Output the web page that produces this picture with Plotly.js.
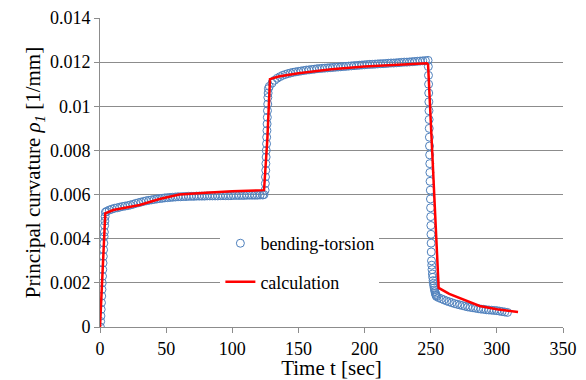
<!DOCTYPE html>
<html>
<head>
<meta charset="utf-8">
<script src="https://cdn.plot.ly/plotly-3.0.1.min.js"></script>
<style>
html,body{margin:0;padding:0;background:#fff;}
#chart{width:586px;height:380px;}
</style>
</head>
<body>
<div id="chart"></div>
<script>
// bending-torsion (measured) : time [sec]
var measT = [
  0.3,0.5,0.7,0.9,1.1,1.3,1.5,1.7,1.9,2.1,2.3,2.5,2.7,2.9,3.1,3.3,3.5,3.7,3.9,4.1,
  5,7,9,11,13,15,17,19,21,23,25,27,29,31,33,35,37,39,41,43,45,47,49,51,53,55,57,59,
  61,63,65,67,69,71,73,75,77,79,81,83,85,87,89,91,93,95,97,99,101,103,105,107,109,
  111,113,115,117,119,121,123,124,
  124.8,125.0,125.1,125.3,125.4,125.6,125.7,125.9,126.0,126.2,126.3,126.5,126.6,126.8,126.9,127.1,127.3,
  128,130,132,134,136,138,140,142,144,146,148,150,152,154,156,158,160,162,164,166,168,
  170,172,174,176,178,180,182,184,186,188,190,192,194,196,198,200,202,204,206,208,210,
  212,214,216,218,220,222,224,226,228,230,232,234,236,238,240,242,244,246,248,
  248.2,248.3,248.4,248.5,248.6,248.7,248.8,248.9,249.0,249.1,249.2,249.3,249.4,249.5,
  249.7,249.8,249.9,250.0,250.1,250.2,250.3,250.4,250.6,
  250.8,251.0,251.3,251.5,251.8,252.0,252.3,252.6,252.9,253.2,253.5,253.8,254.1,254.5,
  256,258,260,262,264,266,268,270,272,274,276,278,280,282,284,286,288,290,292,294,
  296,298,300,302,304,306,308
];
// bending-torsion : principal curvature [1/mm]
var measRho = [
  0,0.00025,0.0005,0.0008,0.0011,0.0014,0.0017,0.002,0.0023,0.0026,0.0029,0.0032,0.0035,0.0038,0.0041,0.0043,0.0046,0.0048,0.005,0.0052,
  0.00524,0.0053,0.00534,0.00538,0.0054,0.00543,0.00546,0.00548,0.0055,0.00553,0.00556,0.0056,0.00563,0.00566,0.00569,0.00572,0.00574,0.00576,0.00578,0.0058,0.00582,0.00583,0.00585,0.00586,0.00587,0.00588,0.00589,0.0059,
  0.0059,0.00591,0.00591,0.00592,0.00592,0.00592,0.00593,0.00593,0.00593,0.00593,0.00594,0.00594,0.00594,0.00594,0.00594,0.00595,0.00595,0.00595,0.00595,0.00595,0.00596,0.00596,0.00596,0.00596,0.00596,
  0.00597,0.00597,0.00597,0.00597,0.00597,0.00598,0.00598,0.006,
  0.0062,0.0065,0.0068,0.0071,0.0074,0.0077,0.008,0.0083,0.0086,0.0089,0.0092,0.0095,0.0098,0.0101,0.0104,0.0106,0.0108,
  0.0109,0.01105,0.01118,0.01127,0.01134,0.0114,0.01144,0.01148,0.01151,0.01154,0.01156,0.01158,0.0116,0.01162,0.01164,0.01165,0.01167,0.01168,0.0117,0.01171,0.01172,
  0.01173,0.01174,0.01175,0.01176,0.01177,0.01178,0.01179,0.0118,0.01181,0.01182,0.01183,0.01184,0.01185,0.01186,0.01187,0.01188,0.01189,0.0119,0.0119,0.01191,0.01192,
  0.01193,0.01193,0.01194,0.01195,0.01196,0.01196,0.01197,0.01198,0.01199,0.012,0.012,0.01201,0.01202,0.01203,0.01204,0.01205,0.01206,0.01207,0.01208,
  0.0118,0.0114,0.011,0.0106,0.0102,0.0098,0.0094,0.009,0.0086,0.0082,0.0078,0.0074,0.007,0.0066,
  0.0062,0.0058,0.0054,0.005,0.0046,0.0042,0.0038,0.0034,0.003,
  0.0028,0.0026,0.0024,0.00225,0.0021,0.00198,0.00187,0.00177,0.00168,0.0016,0.00153,0.00147,0.00142,0.00138,
  0.00133,0.00128,0.00123,0.00118,0.00114,0.0011,0.00106,0.00103,0.001,0.00097,0.00094,0.00091,0.00089,0.00087,0.00085,0.00083,0.00081,0.0008,0.00078,0.00077,
  0.00076,0.00075,0.00074,0.00072,0.0007,0.00068,0.00066
];
// calculation
var calcT = [0,4,10,20,30,45,60,80,100,124,126.5,128.5,135,150,175,200,225,247,248,256,264,272,280,287,300,316];
var calcRho = [0,0.00515,0.0053,0.0054,0.00553,0.0058,0.006,0.00608,0.00615,0.0062,0.0085,0.01123,0.01135,0.0115,0.01168,0.0118,0.01188,0.01195,0.0119,0.00177,0.0015,0.0013,0.00112,0.00095,0.0008,0.00068];

var xTicks = [0,50,100,150,200,250,300,350];
var yTicks = [0,0.002,0.004,0.006,0.008,0.01,0.012,0.014];

var FONT = 'Liberation Serif';
var grid = '#8c8c8c';

var traces = [
  {
    x: measT, y: measRho, type: 'scatter', mode: 'markers', name: 'bending-torsion',
    legendgroup: 'a',
    marker: {symbol: 'circle-open', size: 8, color: 'rgb(79,129,189)', line: {width: 1, color: 'rgb(79,129,189)'}}
  },
  {
    x: calcT, y: calcRho, type: 'scatter', mode: 'lines', name: 'calculation',
    legendgroup: 'b',
    line: {color: '#ff0000', width: 2.5}
  }
];

var layout = {
  width: 586, height: 380,
  margin: {l: 100, r: 23, t: 18, b: 53},
  paper_bgcolor: '#fff', plot_bgcolor: '#fff',
  font: {family: FONT, size: 18, color: '#000'},
  showlegend: true,
  legend: {
    x: 0.26, y: 0.33, xanchor: 'left', yanchor: 'top',
    bgcolor: '#fff', borderwidth: 0,
    font: {family: FONT, size: 18, color: '#000'},
    traceorder: 'grouped', tracegroupgap: 12
  },
  xaxis: {
    range: [0, 350], tickvals: xTicks, ticktext: xTicks.map(String),
    showgrid: false, zeroline: false,
    showline: true, linecolor: grid, linewidth: 1,
    ticks: 'outside', ticklen: 5, tickcolor: grid,
    tickfont: {family: FONT, size: 18, color: '#000'},
    title: {text: 'Time t [sec]', font: {family: FONT, size: 21}}
  },
  yaxis: {
    range: [0, 0.014], tickvals: yTicks, ticktext: yTicks.map(String),
    showgrid: true, gridcolor: grid, gridwidth: 1, zeroline: false,
    showline: true, linecolor: grid, linewidth: 1,
    ticks: 'outside', ticklen: 5, tickcolor: grid,
    tickfont: {family: FONT, size: 18, color: '#000'},
    title: {text: 'Principal curvature <i>ρ<sub>1</sub></i> [1/mm]', font: {family: FONT, size: 21}}
  }
};

Plotly.newPlot('chart', traces, layout, {staticPlot: true, displayModeBar: false});
</script>
</body>
</html>
